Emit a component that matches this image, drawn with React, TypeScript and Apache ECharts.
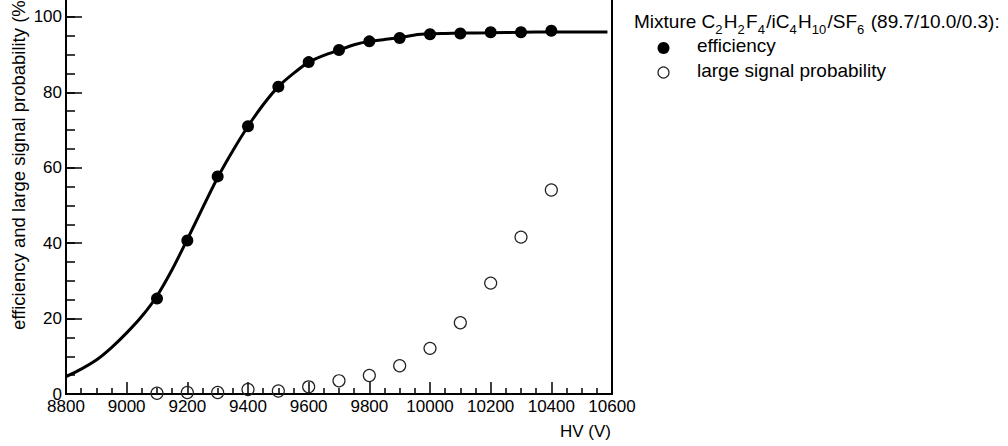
import React, { useEffect, useRef } from "react";
import * as echarts from "echarts";

// ---- data ----
const hv = [9100, 9200, 9300, 9400, 9500, 9600, 9700, 9800, 9900, 10000, 10100, 10200, 10300, 10400];
const efficiency = [25.3, 40.7, 57.7, 71.0, 81.5, 88.0, 91.2, 93.5, 94.4, 95.4, 95.6, 95.9, 95.9, 96.3];
const largeSignal = [0.2, 0.4, 0.4, 1.2, 0.8, 1.9, 3.5, 4.9, 7.5, 12.1, 18.9, 29.4, 41.6, 54.1];

const fitHV = [
  8800, 8850, 8900, 8950, 9000, 9050, 9100, 9150, 9200, 9250, 9300, 9350, 9400, 9450, 9500,
  9550, 9600, 9650, 9700, 9750, 9800, 9850, 9900, 9950, 10000, 10050, 10100, 10200, 10300,
  10400, 10500, 10585,
];
const fitEff = [
  4.6, 6.6, 9.0, 12.3, 16.2, 20.6, 26.0, 33.0, 41.0, 49.3, 57.4, 64.5, 71.0, 76.7, 81.5,
  85.0, 88.0, 89.8, 91.2, 92.6, 93.5, 94.0, 94.5, 95.2, 95.5, 95.6, 95.7, 95.8, 95.9,
  96.0, 96.0, 96.0,
];

const xMin = 8800;
const xMax = 10600;
const xStep = 200;
const yMin = 0;
const yMax = 105;
const yStep = 20;
const yMinorStep = 5;

const yTitle = "efficiency and large signal probability (%)";
const xTitle = "HV (V)";
const legendHeader =
  "{m|Mixture C}{s|2}{m|H}{s|2}{m|F}{s|4}{m|/iC}{s|4}{m|H}{s|10}{m|/SF}{s|6}{m| (89.7/10.0/0.3):}";
const legendNames = ["efficiency", "large signal probability"];

const FONT = "'Liberation Sans', Arial, Helvetica, sans-serif";

export default function App() {
  const ref = useRef<HTMLDivElement>(null);

  useEffect(() => {
    if (!ref.current) return;
    const chart = echarts.init(ref.current, undefined, { renderer: "svg" });

    const axisLine = { show: true, onZero: false, lineStyle: { color: "#000", width: 2 } };
    const plain = (v: number) => String(v);

    chart.setOption({
      animation: false,
      backgroundColor: "#fff",
      grid: {
        left: 66,
        right: 396,
        top: -2,
        bottom: 52,
        show: true,
        borderColor: "#000",
        borderWidth: 2,
        backgroundColor: "transparent",
        containLabel: false,
        outerBoundsMode: "none",
      },
      xAxis: {
        type: "value",
        min: xMin,
        max: xMax,
        interval: xStep,
        axisLine,
        axisTick: { show: true, inside: true, length: 12, lineStyle: { color: "#000", width: 1.5 } },
        minorTick: { show: true, splitNumber: 4, length: 6, lineStyle: { color: "#000", width: 1.5 } },
        splitLine: { show: false },
        minorSplitLine: { show: false },
        axisLabel: {
          color: "#000",
          fontSize: 17,
          fontFamily: FONT,
          margin: 4,
          showMinLabel: true,
          showMaxLabel: true,
          formatter: plain,
        },
      },
      yAxis: [
        {
          type: "value",
          position: "left",
          min: yMin,
          max: yMax,
          interval: yStep,
          axisLine,
          axisTick: { show: true, inside: true, length: 16, lineStyle: { color: "#000", width: 1.5 } },
          splitLine: { show: false },
          axisLabel: {
            color: "#000",
            fontSize: 17,
            fontFamily: FONT,
            margin: 4,
            showMinLabel: true,
            showMaxLabel: false,
            formatter: plain,
          },
        },
        {
          type: "value",
          position: "left",
          min: yMin,
          max: yMax,
          interval: yMinorStep,
          axisLine: { show: false },
          axisTick: { show: true, inside: true, length: 9, lineStyle: { color: "#000", width: 1.5 } },
          splitLine: { show: false },
          axisLabel: { show: false },
        },
      ],
      series: [
        {
          type: "line",
          data: fitHV.map((x, i) => [x, fitEff[i]]),
          showSymbol: false,
          symbol: "none",
          smooth: 0.2,
          lineStyle: { color: "#000", width: 3 },
          z: 2,
        },
        {
          type: "scatter",
          data: hv.map((x, i) => [x, efficiency[i]]),
          symbol: "circle",
          symbolSize: 12,
          itemStyle: { color: "#000", opacity: 1 },
          z: 3,
        },
        {
          type: "scatter",
          data: hv.map((x, i) => [x, largeSignal[i]]),
          symbol: "circle",
          symbolSize: 12,
          itemStyle: { color: "rgba(0,0,0,0)", borderColor: "#222", borderWidth: 1.2, opacity: 1 },
          z: 3,
        },
      ],
      graphic: [
        {
          type: "text",
          x: 18.5,
          y: 330,
          rotation: Math.PI / 2,
          style: {
            text: yTitle,
            fill: "#000",
            fontSize: 18.5,
            fontFamily: FONT,
            align: "left",
            verticalAlign: "middle",
          },
        },
        {
          type: "text",
          x: 611,
          y: 431,
          style: {
            text: xTitle,
            fill: "#000",
            fontSize: 17,
            fontFamily: FONT,
            align: "right",
            verticalAlign: "middle",
          },
        },
        {
          type: "text",
          x: 634,
          y: 12.4,
          style: {
            text: legendHeader,
            fill: "#000",
            fontFamily: FONT,
            fontSize: 19,
            align: "left",
            verticalAlign: "top",
            rich: {
              m: { fontSize: 19, lineHeight: 20, verticalAlign: "top", fontFamily: FONT, fill: "#000" },
              s: {
                fontSize: 13,
                lineHeight: 13,
                verticalAlign: "top",
                padding: [11, 1.3, 0, 0],
                fontFamily: FONT,
                fill: "#000",
              },
            },
          },
        },
        {
          type: "circle",
          shape: { cx: 663.5, cy: 48, r: 6 },
          style: { fill: "#000" },
        },
        {
          type: "circle",
          shape: { cx: 663.5, cy: 72.5, r: 5.5 },
          style: { fill: "none", stroke: "#222", lineWidth: 1.2 },
        },
        {
          type: "text",
          x: 697,
          y: 45.1,
          style: {
            text: legendNames[0],
            fill: "#000",
            fontSize: 19,
            fontFamily: FONT,
            align: "left",
            verticalAlign: "middle",
          },
        },
        {
          type: "text",
          x: 697,
          y: 70.1,
          style: {
            text: legendNames[1],
            fill: "#000",
            fontSize: 19,
            fontFamily: FONT,
            align: "left",
            verticalAlign: "middle",
          },
        },
      ],
    });

    return () => chart.dispose();
  }, []);

  return (
    <div
      ref={ref}
      style={{ position: "absolute", left: 0, top: 0, width: 1008, height: 446 }}
    />
  );
}
